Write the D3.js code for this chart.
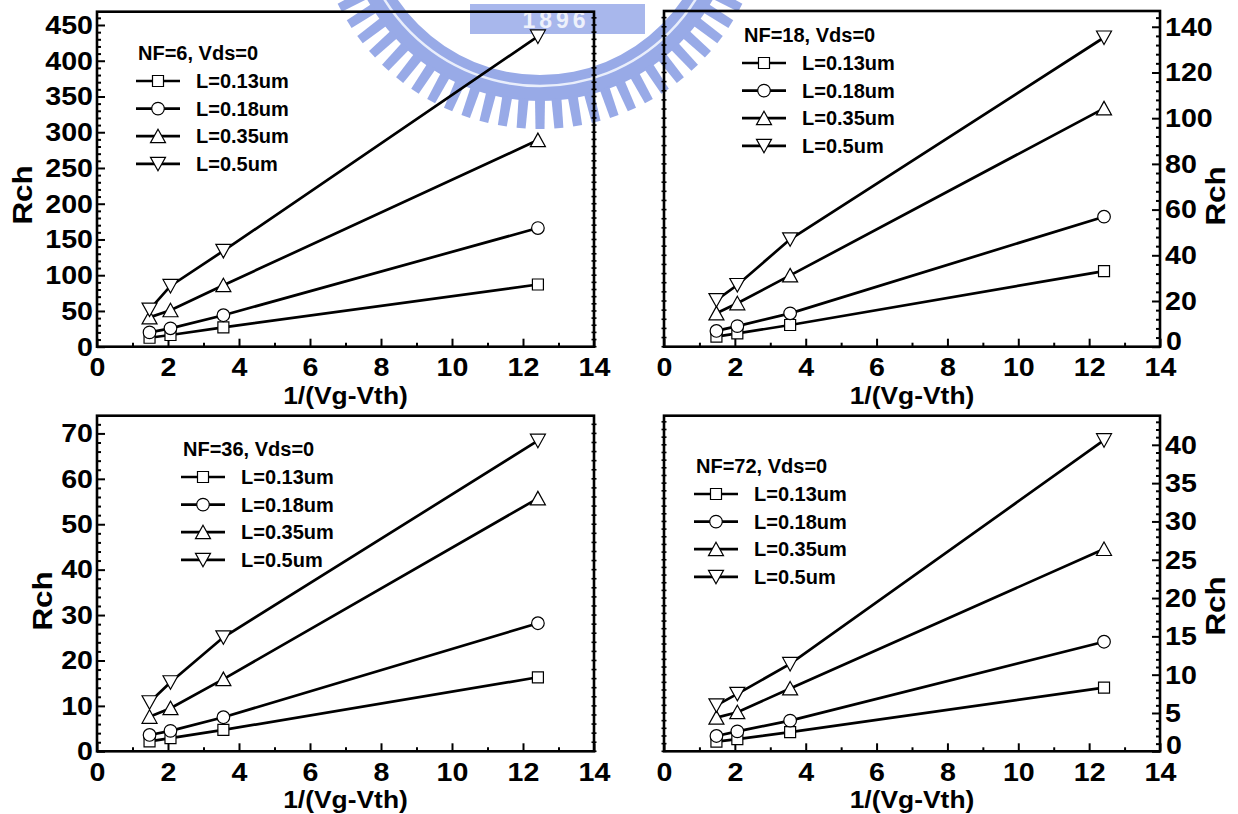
<!DOCTYPE html>
<html>
<head>
<meta charset="utf-8">
<script src="https://cdn.jsdelivr.net/npm/d3@7"></script>
<style>
  html, body { margin: 0; padding: 0; background: #fff; }
  svg { display: block; }
</style>
</head>
<body>
<svg id="chart" width="1238" height="814"></svg>
<script>
// ---------------- DATA ----------------
const xValues = [1.48, 2.07, 3.56, 12.42];
const seriesLabels = ["L=0.13um", "L=0.18um", "L=0.35um", "L=0.5um"];
const markerTypes = ["square", "circle", "triangleUp", "triangleDown"];
const xTicks = [0, 2, 4, 6, 8, 10, 12, 14];

const panelTitles = ["NF=6, Vds=0", "NF=18, Vds=0", "NF=36, Vds=0", "NF=72, Vds=0"];

// Rch values per panel, one array per L series
const rchNF6 = [
  [12.5, 16.4, 27, 87],
  [20, 25.7, 44, 166],
  [41, 51, 86, 289],
  [52, 85, 134, 434]
];
const rchNF18 = [
  [4.4, 5.8, 9.5, 33.1],
  [6.9, 9.0, 14.6, 56.9],
  [14.6, 19, 31.2, 104.3],
  [20.4, 27, 47, 135.3]
];
const rchNF36 = [
  [2.2, 2.9, 4.7, 16.3],
  [3.6, 4.5, 7.5, 28.2],
  [7.6, 9.5, 15.9, 55.7],
  [10.8, 15.2, 25.1, 68.4]
];
const rchNF72 = [
  [1.26, 1.6, 2.5, 8.3],
  [2.0, 2.6, 4.0, 14.3],
  [4.4, 5.1, 8.2, 26.4],
  [6.0, 7.5, 11.4, 40.6]
];

const yTicksNF6 = [0, 50, 100, 150, 200, 250, 300, 350, 400, 450];
const yTicksNF18 = [0, 20, 40, 60, 80, 100, 120, 140];
const yTicksNF36 = [0, 10, 20, 30, 40, 50, 60, 70];
const yTicksNF72 = [0, 5, 10, 15, 20, 25, 30, 35, 40];
const yMaxes = [468.6, 146.9, 73.9, 43.8];

// ---------------- LAYOUT ----------------
const FONT = "'Liberation Sans', Arial, Helvetica, sans-serif";
const panels = [
  { data: rchNF6, ticks: yTicksNF6, yMax: yMaxes[0], title: panelTitles[0],
    left: 97, right: 594, top: 11.7, bottom: 346.7, side: "left",
    legX: 138, legY: 53, rchX: 22, rchY: 195 },
  { data: rchNF18, ticks: yTicksNF18, yMax: yMaxes[1], title: panelTitles[1],
    left: 664, right: 1160, top: 11, bottom: 346.7, side: "right",
    legX: 744, legY: 35, rchX: 1215, rchY: 196 },
  { data: rchNF36, ticks: yTicksNF36, yMax: yMaxes[2], title: panelTitles[2],
    left: 97, right: 594, top: 415.7, bottom: 751.3, side: "left",
    legX: 183, legY: 449, rchX: 42, rchY: 601 },
  { data: rchNF72, ticks: yTicksNF72, yMax: yMaxes[3], title: panelTitles[3],
    left: 664, right: 1160, top: 415.7, bottom: 751.3, side: "right",
    legX: 696, legY: 466, rchX: 1215, rchY: 606 }
];

const svg = d3.select("#chart");

// ---------------- WATERMARK ----------------
(function drawWatermark() {
  const wm = svg.append("g");
  const cx = 540, cy = -97;
  const blue = "#98aae7";
  const arc = d3.arc();
  wm.append("path")
    .attr("transform", `translate(${cx},${cy})`)
    .attr("d", arc({ innerRadius: 172, outerRadius: 198, startAngle: 0, endAngle: 2 * Math.PI }))
    .attr("fill", blue);
  for (let a = 0; a < 360; a += 4.8) {
    wm.append("path")
      .attr("transform", `translate(${cx},${cy}) rotate(${a})`)
      .attr("d", "M-5,196 L5,196 L4.5,226 L-4.5,226 Z")
      .attr("fill", blue);
  }
  wm.append("circle").attr("cx", cx).attr("cy", cy).attr("r", 183)
    .attr("fill", "none").attr("stroke", "#e9eefb").attr("stroke-width", 2.5);
  wm.append("rect").attr("x", 470).attr("y", 4).attr("width", 175).attr("height", 30)
    .attr("fill", "#a8b7ec");
  wm.append("text").attr("x", 556).attr("y", 28)
    .attr("text-anchor", "middle")
    .attr("font-family", FONT).attr("font-weight", "bold").attr("font-size", 23)
    .attr("letter-spacing", 4)
    .attr("fill", "#eef1fb").text("1896");
})();

// ---------------- MARKERS ----------------
function markerPath(type) {
  switch (type) {
    case "square": return "M-5.5,-5.5 H5.5 V5.5 H-5.5 Z";
    case "circle": return d3.symbol().type(d3.symbolCircle).size(Math.PI * 6.3 * 6.3)();
    case "triangleUp": return "M0,-7 L7.5,6.5 L-7.5,6.5 Z";
    case "triangleDown": return "M0,7 L7.5,-6.5 L-7.5,-6.5 Z";
  }
}

// horizontally widen a text (reference lettering is broad)
function widen(sel, factor) {
  sel.each(function () {
    const len = this.getComputedTextLength();
    if (len > 0) {
      d3.select(this).attr("textLength", len * factor).attr("lengthAdjust", "spacingAndGlyphs");
    }
  });
}

// ---------------- PANELS ----------------
panels.forEach((p) => {
  const g = svg.append("g");
  const x = d3.scaleLinear().domain([0, 14]).range([p.left, p.right]);
  const y = d3.scaleLinear().domain([0, p.yMax]).range([p.bottom, p.top]);
  const yStep = p.ticks[1] - p.ticks[0];
  const yMinor = d3.range(0, p.yMax + 1e-9, yStep / 5).filter(v => !p.ticks.some(t => Math.abs(t - v) < 1e-9));
  const xMinor = d3.range(1, 14, 2);

  g.append("g").attr("transform", `translate(0,${p.bottom})`)
    .call(d3.axisBottom(x).tickValues(xTicks).tickSize(-8).tickPadding(11).tickFormat(d3.format("d")));
  g.append("g").attr("transform", `translate(0,${p.bottom})`)
    .call(d3.axisBottom(x).tickValues(xMinor).tickSize(-4).tickFormat(""));

  let mirrorX, yAxisG;
  if (p.side === "left") {
    yAxisG = g.append("g").attr("transform", `translate(${p.left},0)`)
      .call(d3.axisLeft(y).tickValues(p.ticks).tickSize(-8).tickPadding(4).tickFormat(d3.format("d")));
    g.append("g").attr("transform", `translate(${p.left},0)`)
      .call(d3.axisLeft(y).tickValues(yMinor).tickSize(-4).tickFormat(""));
    mirrorX = p.right;
  } else {
    yAxisG = g.append("g").attr("transform", `translate(${p.right},0)`)
      .call(d3.axisRight(y).tickValues(p.ticks).tickSize(-8).tickPadding(5).tickFormat(d3.format("d")));
    g.append("g").attr("transform", `translate(${p.right},0)`)
      .call(d3.axisRight(y).tickValues(yMinor).tickSize(-4).tickFormat(""));
    mirrorX = p.left;
  }
  g.append("g").selectAll("line").data(p.ticks.concat(yMinor)).join("line")
    .attr("x1", mirrorX - 2.5).attr("x2", mirrorX + 2.5)
    .attr("y1", d => y(d)).attr("y2", d => y(d))
    .attr("stroke", "#000").attr("stroke-width", 1.6);

  g.selectAll(".domain").remove();
  g.selectAll(".tick line").attr("stroke", "#000").attr("stroke-width", 2);
  const tickTexts = g.selectAll(".tick text")
    .attr("font-family", FONT).attr("font-weight", "bold").attr("font-size", 26).attr("fill", "#000");
  widen(tickTexts, 1.1);
  if (p.side === "right") {
    yAxisG.selectAll(".tick text").filter(d => d === 0).attr("dy", "0.1em").attr("x", 6);
  }

  g.append("rect")
    .attr("x", p.left).attr("y", p.top)
    .attr("width", p.right - p.left).attr("height", p.bottom - p.top)
    .attr("fill", "none").attr("stroke", "#000").attr("stroke-width", 2.6);

  const xt = g.append("text")
    .attr("x", (p.left + p.right) / 2).attr("y", p.bottom + 57)
    .attr("text-anchor", "middle")
    .attr("font-family", FONT).attr("font-weight", "bold").attr("font-size", 24)
    .text("1/(Vg-Vth)");
  widen(xt, 1.1);
  const rt = g.append("text")
    .attr("transform", `translate(${p.rchX},${p.rchY}) rotate(-90)`)
    .attr("text-anchor", "middle").attr("dy", "0.36em")
    .attr("font-family", FONT).attr("font-weight", "bold").attr("font-size", 28)
    .text("Rch");
  widen(rt, 1.12);

  const line = d3.line().x((d, i) => x(xValues[i])).y(d => y(d));
  p.data.forEach((series) => {
    g.append("path").datum(series)
      .attr("d", line)
      .attr("fill", "none").attr("stroke", "#000").attr("stroke-width", 2.7);
  });
  p.data.forEach((series, si) => {
    g.append("g").selectAll("path").data(series).join("path")
      .attr("transform", (d, i) => `translate(${x(xValues[i])},${y(d)})`)
      .attr("d", markerPath(markerTypes[si]))
      .attr("fill", "#fff").attr("stroke", "#000").attr("stroke-width", 1.2);
  });

  const lg = g.append("g");
  lg.append("text")
    .attr("x", p.legX).attr("y", p.legY).attr("dy", "0.36em")
    .attr("font-family", FONT).attr("font-weight", "bold").attr("font-size", 20)
    .text(p.title);
  seriesLabels.forEach((lab, si) => {
    const ry = p.legY + 28 + si * 27.6;
    lg.append("line")
      .attr("x1", p.legX - 2).attr("x2", p.legX + 42)
      .attr("y1", ry).attr("y2", ry)
      .attr("stroke", "#000").attr("stroke-width", 2.7);
    lg.append("path")
      .attr("transform", `translate(${p.legX + 20},${ry})`)
      .attr("d", markerPath(markerTypes[si]))
      .attr("fill", "#fff").attr("stroke", "#000").attr("stroke-width", 1.2);
    lg.append("text")
      .attr("x", p.legX + 58).attr("y", ry).attr("dy", "0.36em")
      .attr("font-family", FONT).attr("font-weight", "bold").attr("font-size", 20)
      .text(lab);
  });
});
</script>
</body>
</html>
